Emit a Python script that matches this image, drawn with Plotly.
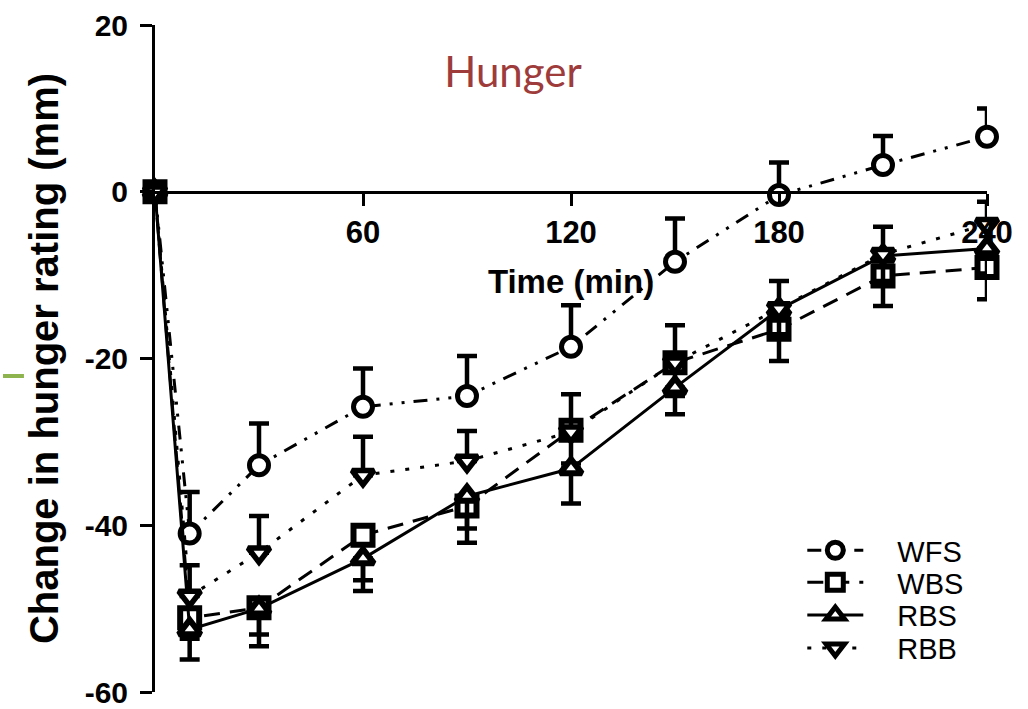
import plotly.graph_objects as go

# Sampling times (min)
time_min = [0, 10, 30, 60, 90, 120, 150, 180, 210, 240]

# Mean change in hunger rating (mm) per breakfast condition
wfs = [0, -41.0, -32.8, -25.8, -24.5, -18.6, -8.4, -0.4, 3.2, 6.6]
wbs = [0, -51.1, -49.9, -41.2, -37.7, -28.6, -20.5, -16.5, -10.1, -9.1]
rbs = [0, -52.5, -50.0, -44.0, -36.5, -33.2, -23.5, -14.1, -7.7, -6.8]
rbb = [0, -48.5, -43.3, -34.0, -32.3, -28.8, -20.5, -14.0, -7.5, -3.9]

# One-sided SEM bars (upper for WFS/RBB, lower for WBS/RBS)
wfs_err_up = [0, 5.0, 5.0, 4.6, 4.8, 5.0, 5.2, 3.9, 3.5, 3.4]
rbb_err_up = [0, 3.7, 4.4, 4.6, 3.6, 4.5, 4.5, 3.3, 3.3, 2.7]
wbs_err_dn = [0, 2.5, 3.2, 5.4, 4.4, 4.0, 4.0, 3.8, 3.6, 3.8]
rbs_err_dn = [0, 3.6, 4.5, 3.9, 3.9, 4.2, 3.2, 3.0, 3.0, 3.0]

zeros = [0] * len(time_min)

x_ticks = [60, 120, 180, 240]
y_ticks = [-60, -40, -20, 0, 20]

BOLD = dict(family="Liberation Sans, Arial, sans-serif", weight="bold", color="black")

series = [
    # name, values, err_plus, err_minus, symbol, size, marker line width, dash, legend id
    ("WFS", wfs, wfs_err_up, zeros, "circle", 19, 5, "14px,9px,3px,9px,3px,9px", "legend"),
    ("WBS", wbs, zeros, wbs_err_dn, "square", 19, 6, "16px,10px", "legend2"),
    ("RBS", rbs, zeros, rbs_err_dn, "triangle-up", 19, 6, "solid", "legend3"),
    ("RBB", rbb, rbb_err_up, zeros, "triangle-down", 19, 5.5, "4px,11px", "legend4"),
]

fig = go.Figure()
for name, vals, ep, em, sym, size, mlw, dash, leg in series:
    fig.add_trace(go.Scatter(
        x=time_min, y=vals, name="\u2003" + name, mode="lines+markers",
        line=dict(color="black", width=3, dash=dash),
        marker=dict(symbol=sym, size=size, color="white",
                    line=dict(color="black", width=mlw)),
        error_y=dict(type="data", symmetric=False, array=ep, arrayminus=em,
                     color="black", thickness=4.5, width=10),
        cliponaxis=False,
        showlegend=True,
        legend=leg,
    ))

# Separate legend boxes so the rows sit at a tight, fixed spacing
legend_rows = {"legend": 0.2123, "legend2": 0.1644, "legend3": 0.1151, "legend4": 0.0658}
legend_layout = {}
for key, ypos in legend_rows.items():
    legend_layout[key] = dict(
        x=0.778, y=ypos, xanchor="left", yanchor="middle",
        bgcolor="rgba(0,0,0,0)", borderwidth=0, itemwidth=56,
        font=dict(family="Liberation Sans, Arial, sans-serif", size=29, color="black"),
    )

fig.update_layout(
    width=1028, height=709,
    margin=dict(l=155, r=41, t=25, b=17, autoexpand=False),
    paper_bgcolor="white", plot_bgcolor="white",
    showlegend=True,
    title=dict(text="Hunger", x=0.499, xanchor="center", y=0.8985, yanchor="middle",
               xref="container", yref="container",
               font=dict(family="Lato, sans-serif", size=42, color="#9E3B3B")),
    xaxis=dict(
        range=[0, 240], anchor="free", position=0.75, automargin=False,
        showline=True, linecolor="black", linewidth=3,
        ticks="outside", ticklen=12, tickwidth=3, tickcolor="black",
        tickvals=x_ticks, ticktext=[str(v) for v in x_ticks],
        ticklabelstandoff=0, ticklabeloverflow="allow",
        tickfont=dict(size=31, **BOLD),
        showgrid=False, zeroline=False,
        title=dict(text="Time (min)", font=dict(size=33, **BOLD), standoff=20),
    ),
    yaxis=dict(
        range=[-60, 20], automargin=False,
        showline=True, linecolor="black", linewidth=3,
        ticks="outside", ticklen=12, tickwidth=3, tickcolor="black",
        tickvals=y_ticks, ticktext=[str(v) for v in y_ticks],
        ticklabelstandoff=6, ticklabeloverflow="allow",
        tickfont=dict(size=30, **BOLD),
        showgrid=False, zeroline=False,
        title=dict(text="Change in hunger rating (mm)", font=dict(size=40, **BOLD), standoff=14),
    ),
    shapes=[dict(type="line", xref="paper", yref="y",
                 x0=-0.1827, x1=-0.1575, y0=-22.1, y1=-22.1,
                 line=dict(color="#8DB44F", width=4))],
    **legend_layout,
)

fig.write_html("out.html")
